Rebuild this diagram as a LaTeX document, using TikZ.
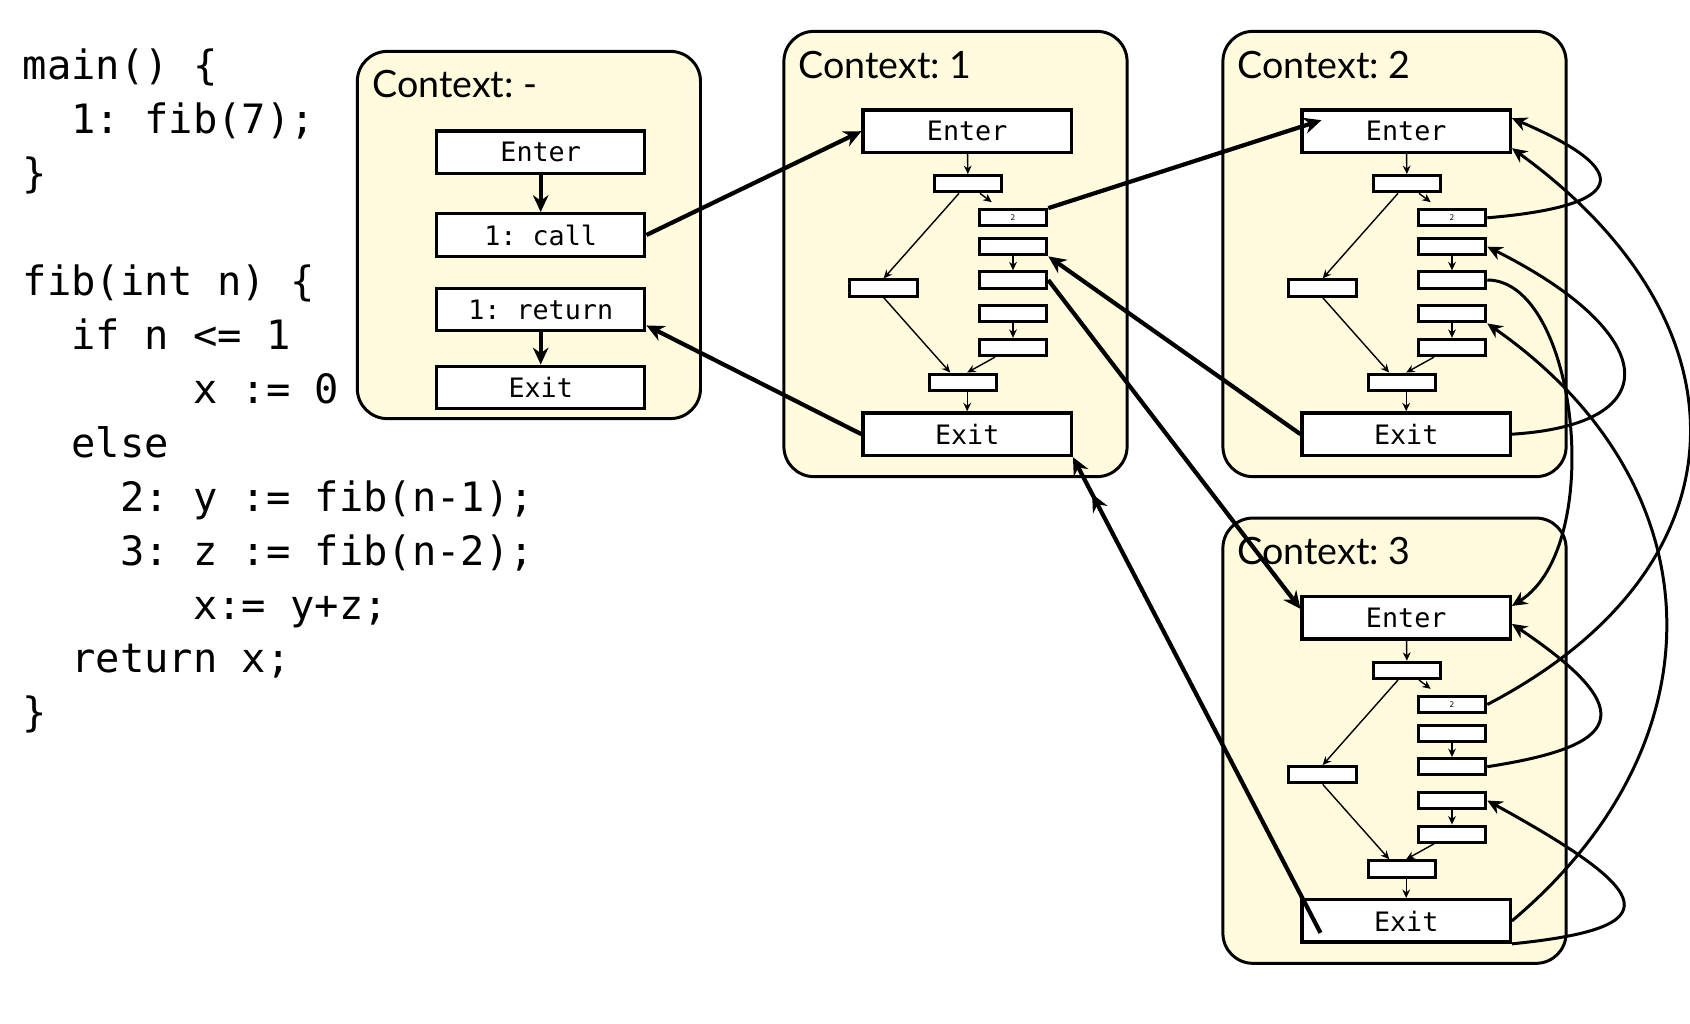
\documentclass[tikz,border=0pt]{standalone}
\usepackage{fontspec}
\setmainfont{Lato}
\newfontfamily\codefont{DejaVu Sans Mono}
\usetikzlibrary{arrows.meta,calc}
\definecolor{ctxfill}{RGB}{255,251,220}

\begin{document}
\frenchspacing
\begin{tikzpicture}[x=0.01cm, y=-0.01cm,
    ctxframe/.style={draw, line width=0.85pt, fill=ctxfill, rounded corners=0.3cm, inner sep=0pt, minimum width=3.43cm},
    ctxtitle/.style={anchor=base west, inner sep=0pt, font=\fontsize{10.7}{12}\selectfont},
    bigbox/.style={draw, fill=white, line width=0.95pt, inner sep=0pt, minimum width=2.08cm, minimum height=0.425cm, font=\codefont\fontsize{7.6}{8}\selectfont},
    smallbox/.style={draw, fill=white, line width=0.85pt, inner sep=0pt, minimum width=0.675cm, minimum height=0.163cm, font=\codefont\fontsize{2.2}{2.5}\selectfont},
    codeline/.style={anchor=base west, inner sep=0pt, font=\codefont\fontsize{11.5}{13}\selectfont},
    flow/.style={line width=0.4pt, -{Stealth[length=2.4pt,width=2.2pt]}},
    mainflow/.style={line width=1.2pt, -{Stealth[length=4.8pt,width=4.4pt]}},
    callline/.style={line width=1.2pt, -{Stealth[length=5pt,width=4.6pt]}},
    recurve/.style={line width=0.85pt, -{Stealth[length=4.3pt,width=4pt]}}]
  \useasboundingbox (0,0) rectangle (1690,1024);

  % source code
  \foreach \r/\i/\t in {0/0/{main() \{}, 1/2/{1: fib(7);}, 2/0/{\}}, 4/0/{fib(int n) \{},
      5/2/{if n <= 1}, 6/7/{x := 0}, 7/2/{else}, 8/4/{2: y := fib(n-1);},
      9/4/{3: z := fib(n-2);}, 10/7/{x:= y+z;}, 11/2/{return x;}, 12/0/{\}}}
    \node[codeline] (src\r) at ({22+24.33*\i},{80+53.9*\r}) {\t};

  % main
  \node[ctxframe, minimum height=3.67cm] (mframe) at (528.9,235) {};
  \node[ctxtitle] (mtitle) at (371.5,97.5) {Context: -};
  \node[bigbox] (menter) at (540.7,152.2) {Enter};
  \node[bigbox] (mcall) at (540.7,235) {1: call};
  \node[bigbox] (mret) at (540.7,309.5) {1: return};
  \node[bigbox] (mexit) at (540.7,387.5) {Exit};
  \draw[mainflow] (menter) -- (mcall);
  \draw[mainflow] (mret) -- (mexit);

  % fib, one copy per context
  \foreach \c/\dx/\dy in {1/0/0, 2/439/0, 3/439/486.7} {
    \begin{scope}[shift={(\dx,\dy)}, name prefix=c\c-]
      \node[ctxframe, minimum height=4.45cm] (frame) at (955.5,254) {};
      \node[ctxtitle] (title) at (798,78) {Context: \c};
      \node[bigbox] (enter) at (967.2,131.2) {Enter};
      \node[smallbox] (cond) at (968,183.7) {};
      \node[smallbox] (call2) at (1013,217.8) {2};
      \node[smallbox] (ret2) at (1013,246.7) {};
      \node[smallbox] (call3) at (1013,280) {};
      \node[smallbox] (ret3) at (1013,313.8) {};
      \node[smallbox] (sum) at (1013,347.5) {};
      \node[smallbox] (base) at (883.7,288) {};
      \node[smallbox] (done) at (963.2,382.2) {};
      \node[bigbox] (exit) at (967.2,434.2) {Exit};
      \draw[flow] (enter) -- (cond);
      \draw[flow] ($(cond.south)+(12,0)$) -- ($(call2.north west)+(14,-6)$);
      \draw[flow] ($(cond.south)+(-9,0)$) -- (base.north);
      \draw[flow] (ret2) -- (call3);
      \draw[flow] (ret3) -- (sum);
      \draw[flow] (base.south) -- ($(done.north)+(-13,0)$);
      \draw[flow] ($(sum.south)+(-18,0)$) -- ($(done.north)+(4,0)$);
      \draw[flow] (done.south -| exit.north) -- (exit.north);
    \end{scope}
  }

  % calls and returns
  \draw[callline] (mcall.east) -- (c1-enter.west);
  \draw[callline] (c1-exit.west) -- ($(mret.south east)+(0,-7)$);
  \draw[callline] (c1-call2.north east) -- ($(c2-enter.west)+(21,-11)$);
  \draw[callline] (c2-exit.west) -- (c1-ret2.south east);
  \draw[callline] (c1-call3.east) -- ($(c3-enter.west)+(0,-9)$);
  \draw[callline, -{Stealth[length=5pt,width=4.6pt,sep=6.8pt]Stealth[length=5pt,width=4.6pt]}]
    ($(c3-exit.south west)+(20,-11)$) -- (c1-exit.south east);

  \draw[recurve] (c2-call2.east) .. controls +(120,-10) and +(140,60) .. ($(c2-enter.east)+(0,-13)$);
  \draw[recurve] (c3-call2.east) .. controls +(263,-137) and +(243,176) .. ($(c2-enter.east)+(0,17)$);
  \draw[recurve] (c2-exit.east) .. controls +(160,-10) and +(170,85) .. (c2-ret2.east);
  \draw[recurve] (c2-call3.east) .. controls +(90,0) and +(95,-60) .. ($(c3-enter.east)+(0,-12)$);
  \draw[recurve] (c3-exit.east) .. controls +(214,-180) and +(229,160) .. (c2-ret3.south east);
  \draw[recurve] (c3-call3.east) .. controls +(130,-20) and +(134,90) .. ($(c3-enter.east)+(0,6)$);
  \draw[recurve] (c3-exit.south east) .. controls +(160,-16) and +(169,93) .. (c3-ret3.east);
\end{tikzpicture}
\end{document}
